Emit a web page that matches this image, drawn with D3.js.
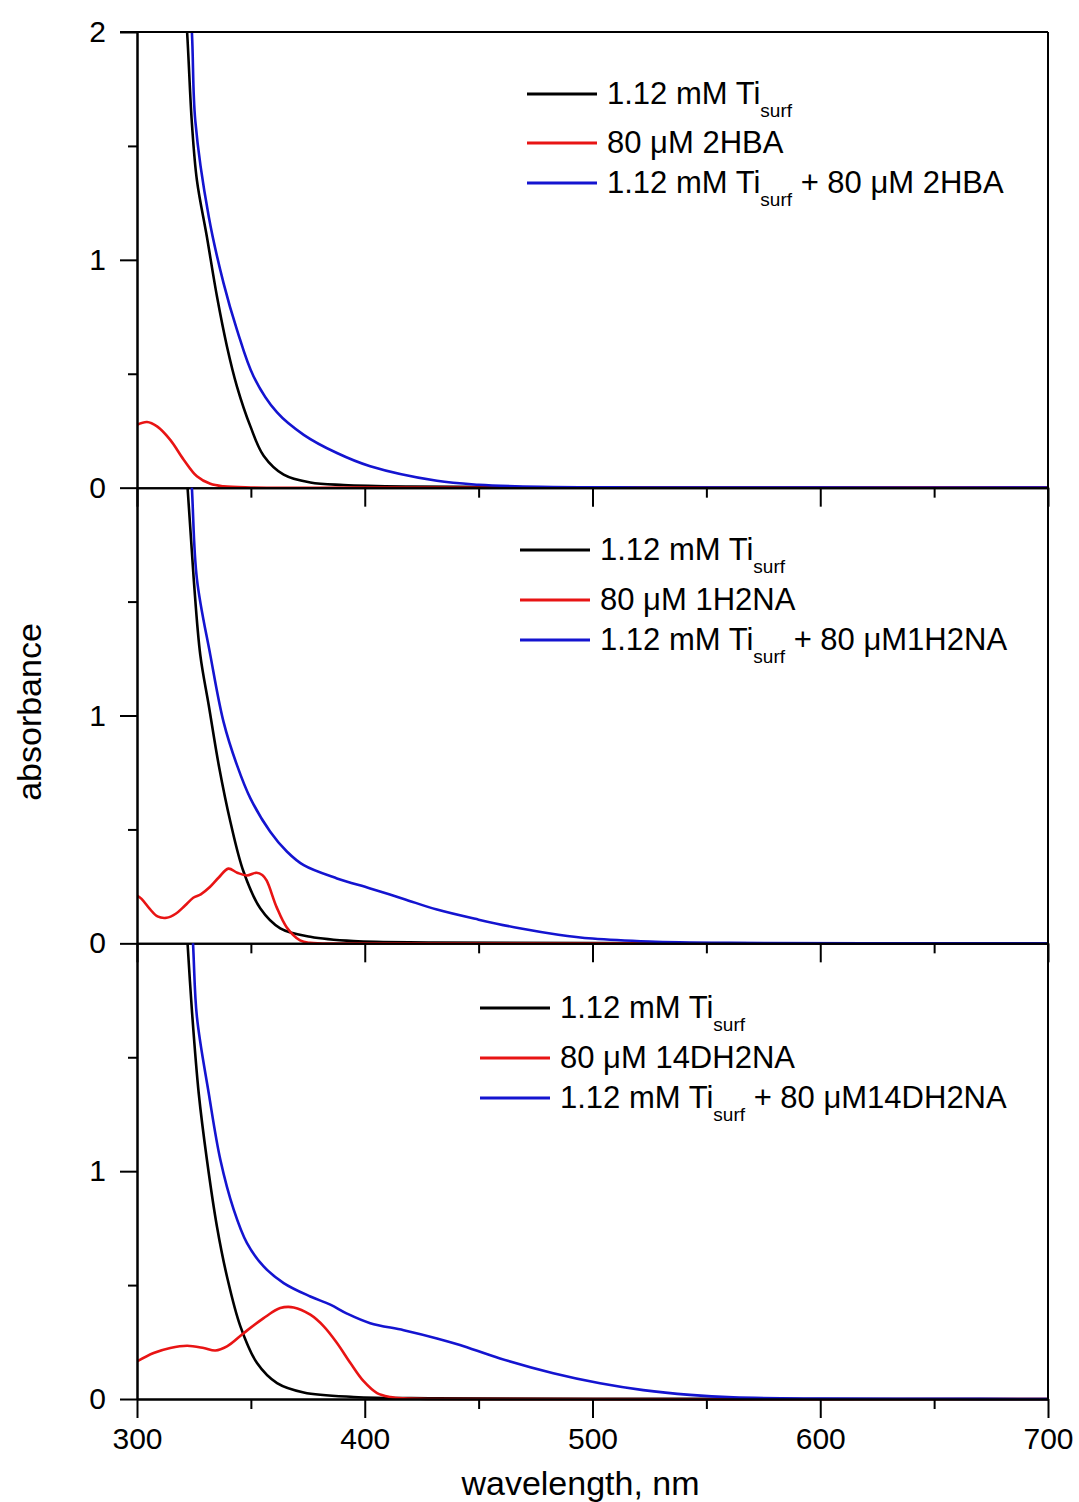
<!DOCTYPE html>
<html>
<head>
<meta charset="utf-8">
<script src="https://cdn.jsdelivr.net/npm/d3@7"></script>
<style>
  body { margin: 0; background: #fff; }
  text { font-family: "Liberation Sans", Arial, sans-serif; fill: #000; }
</style>
</head>
<body>
<script>
// wavelength (nm), absorbance pairs

// panel 1 : 2HBA
const ti_a = [[319,2.45],[322,2.0],[324.1,1.6],[326.3,1.35],[330.7,1.10],[335.1,0.84],[339.5,0.62],[343.9,0.444],[349.8,0.269],[355.6,0.14],[364.4,0.057],[376.1,0.023],[390.7,0.012],[420,0.005],[470,0.002],[550,0.001],[700,0]]
const lig_2HBA = [[300,0.276],[304.4,0.288],[308.8,0.269],[314.6,0.21],[320.5,0.123],[326.3,0.05],[332.2,0.017],[338,0.006],[350,0.001],[400,0],[700,0]]
const mix_2HBA = [[321,2.5],[324.1,2.0],[325.6,1.61],[331.5,1.19],[338,0.898],[343.9,0.693],[351.2,0.488],[361.5,0.33],[373.2,0.232],[387.8,0.152],[402.4,0.094],[431.7,0.03],[450,0.013],[477,0.004],[520,0.001],[600,0],[700,0]]

// panel 2 : 1H2NA
const ti_b = [[319,2.45],[322.2,2.0],[324.9,1.60],[327.8,1.265],[331.5,1.045],[335.9,0.782],[341,0.534],[346.8,0.314],[354.1,0.154],[362.9,0.066],[376.1,0.029],[395.1,0.010],[430,0.004],[500,0.001],[700,0]]
const lig_1H2NA = [[300,0.21],[302,0.195],[305.7,0.15],[309,0.118],[313,0.112],[317,0.13],[321,0.165],[324.7,0.2],[328,0.215],[332,0.247],[336,0.29],[340.1,0.328],[344,0.31],[348.2,0.298],[352.5,0.31],[355,0.3],[356.9,0.276],[361.3,0.159],[365.7,0.071],[371.6,0.013],[376,0.002],[400,0],[700,0]]
const mix_1H2NA = [[321.5,2.5],[324.1,2.0],[326.3,1.60],[332.2,1.265],[338,0.972],[343.9,0.782],[349.8,0.636],[358.5,0.49],[365.9,0.402],[373.2,0.343],[387.8,0.285],[402.4,0.241],[417.1,0.195],[431.7,0.148],[450,0.104],[468,0.066],[485,0.038],[500,0.021],[525,0.008],[560,0.002],[620,0],[700,0]]

// panel 3 : 14DH2NA
const ti_c = [[319,2.5],[322.2,2.0],[324.1,1.707],[327.1,1.342],[330.7,1.05],[335.1,0.757],[339.5,0.538],[345.4,0.319],[352.7,0.158],[361.5,0.07],[373.2,0.029],[395.1,0.009],[430,0.003],[500,0.001],[700,0]]
const lig_14DH2NA = [[300,0.165],[307.3,0.202],[314.6,0.224],[322,0.234],[329.3,0.224],[334.4,0.213],[339.5,0.231],[346.8,0.289],[355.6,0.355],[362.9,0.399],[368.8,0.402],[376.1,0.37],[382,0.319],[387.8,0.246],[393.7,0.158],[399.5,0.078],[405.4,0.026],[411.2,0.009],[417.1,0.003],[430,0],[700,0]]
const mix_14DH2NA = [[322,2.5],[324.6,2.0],[326.3,1.678],[331.5,1.342],[336.6,1.05],[342.5,0.83],[348.3,0.684],[355.6,0.582],[364.4,0.509],[376.1,0.45],[384.9,0.414],[392.2,0.375],[402.4,0.333],[417.1,0.302],[431.7,0.266],[441.8,0.237],[459.4,0.178],[482.8,0.113],[503.3,0.069],[522.3,0.039],[542.8,0.018],[561.8,0.007],[600,0.002],[650,0.001],[700,0]]

// legend texts
const ligandNames = ["80 \u03bcM 2HBA", "80 \u03bcM 1H2NA", "80 \u03bcM 14DH2NA"]
const mixSuffix = [" + 80 \u03bcM 2HBA", " + 80 \u03bcM1H2NA", " + 80 \u03bcM14DH2NA"]

const xMajor = [300, 400, 500, 600, 700]
const xMinor = [350, 450, 550, 650]
const colors = { ti: "#000", lig: "#e81414", mix: "#1414d0" }

const panels = [
  { ti: ti_a, lig: lig_2HBA, mix: mix_2HBA },
  { ti: ti_b, lig: lig_1H2NA, mix: mix_1H2NA },
  { ti: ti_c, lig: lig_14DH2NA, mix: mix_14DH2NA }
]

// layout
const plotL = 137, plotR = 1048, plotT = 32, panelH = 455.67
const legendPos = [
  { x1: 527, x2: 597, tx: 607, rows: [94, 143, 183] },
  { x1: 520, x2: 590, tx: 600, rows: [550, 600, 640] },
  { x1: 480, x2: 550, tx: 560, rows: [1008, 1058, 1098] }
]

const svg = d3.select("body").append("svg")
  .attr("width", 1079)
  .attr("height", 1502)

const x = d3.scaleLinear().domain([300, 700]).range([plotL, plotR])

panels.forEach((p, i) => {
  const top = plotT + i * panelH
  const y = d3.scaleLinear().domain([0, 2]).range([top + panelH, top])

  svg.append("clipPath").attr("id", "clip" + i)
    .append("rect")
    .attr("x", plotL).attr("y", top)
    .attr("width", plotR - plotL).attr("height", panelH + 3)

  const line = d3.line()
    .x(d => x(d[0]))
    .y(d => y(Math.max(0, d[1])))
    .curve(d3.curveCatmullRom.alpha(0.5))

  const g = svg.append("g").attr("clip-path", "url(#clip" + i + ")")
  ;[["ti", p.ti], ["lig", p.lig], ["mix", p.mix]].forEach(([k, d]) => {
    g.append("path")
      .attr("d", line(d))
      .attr("fill", "none")
      .attr("stroke", colors[k])
      .attr("stroke-width", 2.6)
  })

  // x axis (major + minor)
  const xAx = svg.append("g").attr("transform", `translate(0,${y(0)})`)
    .call(d3.axisBottom(x).tickValues(xMajor).tickSize(19).tickSizeOuter(0).tickPadding(10)
      .tickFormat(i === 2 ? d3.format("d") : ""))
  xAx.selectAll("text").style("font-size", "30px")
  svg.append("g").attr("transform", `translate(0,${y(0)})`)
    .call(d3.axisBottom(x).tickValues(xMinor).tickSize(10).tickSizeOuter(0).tickFormat(""))

  // y axis (major + minor)
  const yAx = svg.append("g").attr("transform", `translate(${plotL},0)`)
    .call(d3.axisLeft(y).tickValues(i === 0 ? [0, 1, 2] : [0, 1]).tickSize(17).tickSizeOuter(0).tickPadding(14)
      .tickFormat(d3.format("d")))
  yAx.selectAll("text").style("font-size", "30px")
  svg.append("g").attr("transform", `translate(${plotL},0)`)
    .call(d3.axisLeft(y).tickValues([0.5, 1.5]).tickSize(9).tickSizeOuter(0).tickFormat(""))

  // legend
  const lp = legendPos[i]
  const entries = [
    { c: colors.ti, parts: ["1.12 mM Ti", "surf", ""] },
    { c: colors.lig, parts: [ligandNames[i]] },
    { c: colors.mix, parts: ["1.12 mM Ti", "surf", mixSuffix[i]] }
  ]
  entries.forEach((e, j) => {
    const ry = lp.rows[j]
    svg.append("line")
      .attr("x1", lp.x1).attr("x2", lp.x2)
      .attr("y1", ry).attr("y2", ry)
      .attr("stroke", e.c).attr("stroke-width", 2.8)
    const t = svg.append("text")
      .attr("x", lp.tx).attr("y", ry + 10)
      .style("font-size", "31px")
    t.append("tspan").text(e.parts[0])
    if (e.parts.length > 1) {
      t.append("tspan").attr("dy", 13).style("font-size", "19px").text(e.parts[1])
      t.append("tspan").attr("dy", -13).text(e.parts[2])
    }
  })
})

svg.selectAll(".domain, .tick line").attr("stroke", "#000").attr("stroke-width", 2)

// frame: top and right
svg.append("line").attr("x1", plotL - 17).attr("x2", plotR).attr("y1", plotT).attr("y2", plotT)
  .attr("stroke", "#000").attr("stroke-width", 2)
svg.append("line").attr("x1", plotR).attr("x2", plotR).attr("y1", plotT).attr("y2", plotT + 3 * panelH)
  .attr("stroke", "#000").attr("stroke-width", 2)

// axis titles
svg.append("text")
  .attr("x", (plotL + plotR) / 2 - 12).attr("y", 1495)
  .attr("text-anchor", "middle")
  .style("font-size", "34px")
  .text("wavelength, nm")

svg.append("text")
  .attr("transform", "translate(41,712) rotate(-90)")
  .attr("text-anchor", "middle")
  .style("font-size", "34px")
  .text("absorbance")
</script>
</body>
</html>
